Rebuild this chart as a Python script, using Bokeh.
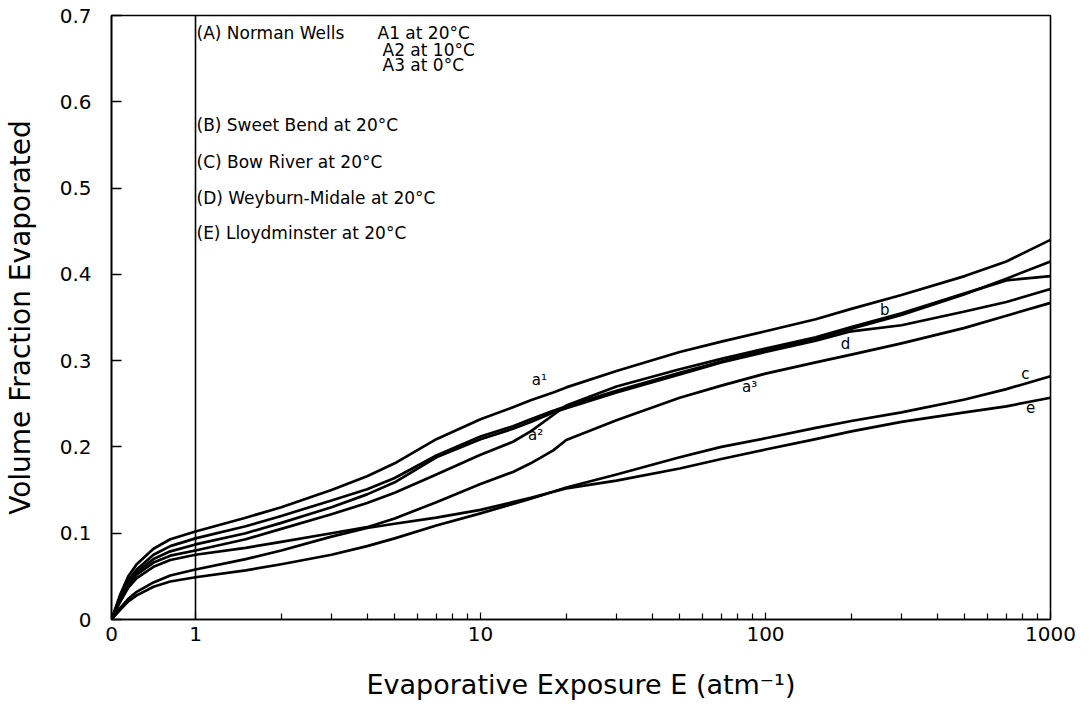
from bokeh.plotting import figure
from bokeh.models import (Range1d, LinearScale, FixedTicker, CustomJSTickFormatter,
                          Span, Label)
from bokeh.embed import file_html
from bokeh.resources import INLINE

# ---------------- data ----------------
exposure = [0, 0.1, 0.2, 0.3, 0.5, 0.7, 1, 1.5, 2, 3, 4, 5, 7, 10, 13, 15, 18, 20,
            30, 50, 70, 100, 150, 200, 300, 500, 700, 1000]

a1 = [0, 0.028, 0.050, 0.064, 0.082, 0.093, 0.102, 0.118, 0.130, 0.150, 0.166, 0.181,
      0.209, 0.232, 0.246, 0.254, 0.263, 0.269, 0.288, 0.310, 0.322, 0.334, 0.348,
      0.360, 0.376, 0.398, 0.415, 0.440]
a2 = [0, 0.022, 0.040, 0.052, 0.066, 0.074, 0.080, 0.093, 0.105, 0.122, 0.135, 0.147,
      0.168, 0.191, 0.206, 0.218, 0.237, 0.248, 0.270, 0.290, 0.302, 0.314, 0.327,
      0.339, 0.355, 0.378, 0.393, 0.398]
a3 = [0, 0.020, 0.037, 0.048, 0.061, 0.069, 0.075, 0.083, 0.090, 0.100, 0.107, 0.117,
      0.136, 0.157, 0.171, 0.181, 0.196, 0.208, 0.231, 0.257, 0.271, 0.285, 0.298,
      0.307, 0.320, 0.338, 0.352, 0.367]
b = [0, 0.025, 0.045, 0.058, 0.075, 0.085, 0.094, 0.108, 0.120, 0.138, 0.151, 0.164,
     0.190, 0.212, 0.224, 0.232, 0.242, 0.247, 0.265, 0.286, 0.299, 0.312, 0.325,
     0.337, 0.353, 0.377, 0.395, 0.415]
c = [0, 0.011, 0.021, 0.028, 0.038, 0.044, 0.049, 0.057, 0.064, 0.075, 0.085, 0.094,
     0.109, 0.123, 0.134, 0.140, 0.148, 0.153, 0.168, 0.188, 0.200, 0.210, 0.222,
     0.230, 0.240, 0.255, 0.267, 0.282]
d = [0, 0.024, 0.043, 0.055, 0.070, 0.079, 0.087, 0.100, 0.112, 0.130, 0.145, 0.159,
     0.188, 0.209, 0.221, 0.229, 0.240, 0.245, 0.263, 0.284, 0.298, 0.310, 0.323,
     0.334, 0.341, 0.357, 0.368, 0.383]
e = [0, 0.013, 0.024, 0.032, 0.043, 0.051, 0.058, 0.070, 0.080, 0.096, 0.106, 0.111,
     0.118, 0.127, 0.136, 0.141, 0.148, 0.152, 0.161, 0.175, 0.186, 0.197, 0.209,
     0.218, 0.229, 0.240, 0.247, 0.257]

curves = [a1, a2, a3, b, c, d, e]
curve_tags = ["a\u00b9", "a\u00b2", "a\u00b3", "b", "c", "d", "e"]
# where each tag sits (exposure, fraction)
tag_pos_x = [16.1, 15.6, 88.0, 262.0, 817.0, 191.0, 851.0]
tag_pos_y = [0.277, 0.214, 0.269, 0.359, 0.284, 0.319, 0.246]

x_major = [1, 10, 100, 1000]
x_minor = [2, 3, 4, 5, 6, 7, 8, 9, 20, 30, 40, 50, 60, 70, 80, 90,
           200, 300, 400, 500, 600, 700, 800, 900]
y_ticks = [0, 0.1, 0.2, 0.3, 0.4, 0.5, 0.6, 0.7]

legend_text = ["(A) Norman Wells", "A1 at 20\u00b0C", "A2 at 10\u00b0C", "A3 at 0\u00b0C",
               "(B) Sweet Bend at 20\u00b0C", "(C) Bow River at 20\u00b0C",
               "(D) Weyburn-Midale at 20\u00b0C", "(E) Lloydminster at 20\u00b0C"]
# screen positions (relative to frame left / frame bottom)
legend_sx = [85, 266, 271, 271, 85, 85, 85, 85]
legend_sy = [587, 587, 570, 555, 495, 458, 422, 387]

# ---------------- layout ----------------
FONT = "DejaVu Sans"
FRAME_W = 939
FRAME_H = 604
LIN_PX = 84.0                       # width of the linear 0..1 part
DECADE_PX = (FRAME_W - LIN_PX) / 3  # width of one decade in the log part
log_start = 10 ** (-LIN_PX / DECADE_PX)

p = figure(frame_width=FRAME_W, frame_height=FRAME_H,
           x_axis_type="log", x_range=Range1d(log_start, 1000),
           y_range=Range1d(0, 0.7),
           min_border_left=109, min_border_top=15, min_border_right=26,
           min_border_bottom=88,
           output_backend="svg", toolbar_location=None)
p.extra_x_ranges = {"lin": Range1d(0, FRAME_W / LIN_PX)}
p.extra_x_scales = {"lin": LinearScale()}

p.xgrid.visible = False
p.ygrid.visible = False
p.outline_line_color = "black"
p.outline_line_width = 1.6
p.background_fill_color = "white"
p.border_fill_color = "white"

xa = p.xaxis[0]
xa.ticker = FixedTicker(ticks=[log_start * 1.0005] + x_major, minor_ticks=x_minor)
xa.formatter = CustomJSTickFormatter(code="return tick < 0.99 ? '0' : tick.toFixed(0);")
xa.major_tick_in = 7
xa.major_tick_out = 0
xa.minor_tick_in = 6
xa.minor_tick_out = 0
xa.axis_line_width = 1.6
xa.major_tick_line_width = 1.2
xa.minor_tick_line_width = 1.2
xa.major_label_text_font = FONT
xa.major_label_text_font_size = "20px"
xa.major_label_text_color = "black"
xa.major_label_standoff = 7
xa.axis_label = "Evaporative Exposure E (atm\u207b\u00b9)"
xa.axis_label_text_font = FONT
xa.axis_label_text_font_size = "27px"
xa.axis_label_text_font_style = "normal"
xa.axis_label_text_color = "black"
xa.axis_label_standoff = 25

ya = p.yaxis[0]
ya.ticker = FixedTicker(ticks=y_ticks)
ya.formatter = CustomJSTickFormatter(code="return tick == 0 ? '0' : tick.toFixed(1);")
ya.major_tick_in = 10
ya.major_tick_out = 0
ya.minor_tick_in = 0
ya.minor_tick_out = 0
ya.axis_line_width = 1.6
ya.major_tick_line_width = 1.4
ya.major_label_text_font = FONT
ya.major_label_text_font_size = "20px"
ya.major_label_text_color = "black"
ya.major_label_standoff = 20
ya.axis_label = "Volume Fraction Evaporated"
ya.axis_label_text_font = FONT
ya.axis_label_text_font_size = "28px"
ya.axis_label_text_font_style = "normal"
ya.axis_label_text_color = "black"
ya.axis_label_standoff = 20

# vertical divider at E = 1
p.add_layout(Span(location=1, dimension="height", line_color="black", line_width=1.6))

# curves: linear part (0..1) and logarithmic part (1..1000)
for vals in curves:
    lx = [x for x in exposure if x <= 1]
    ly = [v for x, v in zip(exposure, vals) if x <= 1]
    gx = [x for x in exposure if x >= 1]
    gy = [v for x, v in zip(exposure, vals) if x >= 1]
    p.line(lx, ly, x_range_name="lin", line_color="black", line_width=2.7,
           line_join="round", line_cap="round")
    p.line(gx, gy, line_color="black", line_width=2.7,
           line_join="round", line_cap="round")

for tag, tx, ty in zip(curve_tags, tag_pos_x, tag_pos_y):
    p.add_layout(Label(x=tx, y=ty, text=tag, text_font=FONT, text_font_size="15px",
                       text_align="center", text_baseline="middle", text_color="black"))

for t, sx, sy in zip(legend_text, legend_sx, legend_sy):
    p.add_layout(Label(x=sx, y=sy, x_units="screen", y_units="screen", text=t,
                       text_font=FONT, text_font_size="17px", text_color="black",
                       text_align="left", text_baseline="middle"))

open("out.html", "w").write(file_html(p, INLINE))
